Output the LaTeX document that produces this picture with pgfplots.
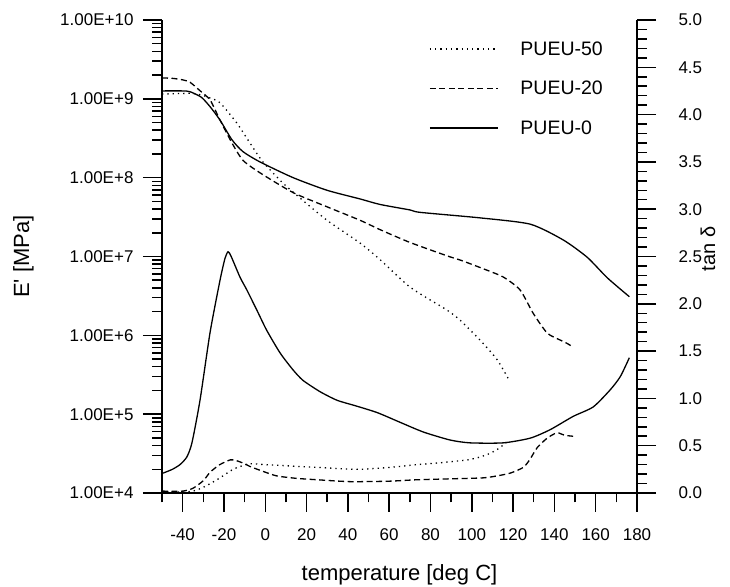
\documentclass[border=0pt]{standalone}
\usepackage{pgfplots}
\pgfplotsset{compat=1.18}
\usepackage{fontspec}
\setmainfont{Liberation Sans}
\newfontfamily\ls{Liberation Sans}
\begin{document}
\begin{tikzpicture}
\useasboundingbox (-162bp,-94bp) rectangle (568bp,493bp);
\pgfplotsset{
  common/.style={
    at={(0,0)}, anchor=south west,
    scale only axis, width=475bp, height=473bp,
    xmin=-50, xmax=180, enlargelimits=false,
    tick align=outside,
    major tick length=19bp, minor tick length=9.5bp,
    axis line style={-, line width=1.6bp},
    every tick/.style={line width=1.5bp, black},
    tick label style={font=\ls\fontsize{17bp}{20bp}\selectfont},
    every axis plot/.append style={smooth, tension=0.4},
  },
}
\begin{axis}[common,
  ymode=log, ymin=1e4, ymax=1e10,
  axis x line*=bottom, axis y line*=left,
  xtick={-40,-20,0,20,40,60,80,100,120,140,160,180},
  xticklabels={-40,-20,0,20,40,60,80,100,120,140,160,180},
  minor xtick={-50,-30,-10,10,30,50,70,90,110,130,150,170},
  ytick={1e4,1e5,1e6,1e7,1e8,1e9,1e10},
  yticklabels={1.00E+4,1.00E+5,1.00E+6,1.00E+7,1.00E+8,1.00E+9,1.00E+10},
  minor ytick={2e4,3e4,4e4,5e4,6e4,7e4,8e4,9e4,
               2e5,3e5,4e5,5e5,6e5,7e5,8e5,9e5,
               2e6,3e6,4e6,5e6,6e6,7e6,8e6,9e6,
               2e7,3e7,4e7,5e7,6e7,7e7,8e7,9e7,
               2e8,3e8,4e8,5e8,6e8,7e8,8e8,9e8,
               2e9,3e9,4e9,5e9,6e9,7e9,8e9,9e9},
  xticklabel style={yshift=-13bp},
  yticklabel style={xshift=-6bp},
  xlabel={temperature [deg C]},
  ylabel={E' [MPa]},
  xlabel style={font=\ls\fontsize{22bp}{26bp}\selectfont, at={(axis description cs:0.5,0)}, anchor=center, yshift=-82bp},
  ylabel style={font=\ls\fontsize{22bp}{26bp}\selectfont, at={(axis description cs:0,0.5)}, anchor=center, yshift=138.5bp},
  legend style={at={(axis description cs:0.562,0.959)}, anchor=north west, draw=none, fill=none,
    font=\ls\fontsize{19.5bp}{23bp}\selectfont, row sep=20.4bp, inner sep=0pt,
    /tikz/every odd column/.append style={column sep=20bp}},
  legend cell align=left,
  legend image code/.code={\draw[#1, sharp plot] (0bp,0bp) -- (68bp,0bp);},
]
% PUEU-50 E'
\addplot[black, line width=1.3bp, dash pattern=on 1.3bp off 4bp] coordinates {
(-50,1.148e9) (-45,1.16e9) (-40,1.17e9) (-36,1.175e9) (-31,1.12e9) (-26.7,1.023e9) (-21.9,8.91e8)
(-13.7,4.90e8) (-7.4,2.75e8) (-1.1,1.58e8) (8.6,8.51e7) (16.9,5.50e7) (29.9,2.88e7)
(45.9,1.48e7) (55.6,9.12e6) (70.2,4.07e6) (88,2.09e6) (94.4,1.55e6) (104,8.71e5)
(112.3,4.90e5) (118.1,2.69e5)};
\addlegendentry{PUEU-50}
% PUEU-20 E'
\addplot[black, line width=1.3bp, dash pattern=on 6bp off 3.5bp] coordinates {
(-50,1.84e9) (-45,1.82e9) (-40,1.74e9) (-36.4,1.62e9) (-31.5,1.26e9) (-26.7,9.66e8)
(-21.9,5.37e8) (-16.1,2.75e8) (-10.8,1.66e8) (-2.5,1.15e8) (13.5,6.46e7) (29.9,4.27e7)
(45.9,2.88e7) (55.6,2.19e7) (70,1.51e7) (88,1.02e7) (95,8.9e6) (105,7.08e6) (115.2,5.50e6)
(123.4,3.76e6) (129.7,1.91e6) (136.5,1.07e6) (142.8,8.71e5) (146,7.94e5) (149.1,7.08e5)};
\addlegendentry{PUEU-20}
% PUEU-0 E'
\addplot[black, line width=1.3bp] coordinates {
(-50,1.26e9) (-40,1.26e9) (-36.4,1.23e9) (-31,1.05e9) (-26.7,7.94e8) (-21.9,5.37e8)
(-16.1,3.02e8) (-10.8,2.14e8) (-2.5,1.58e8) (13.5,1.0e8) (29.9,6.92e7) (45.9,5.37e7)
(55.6,4.57e7) (70.2,3.89e7) (75,3.63e7) (104,3.09e7) (128.3,2.57e7) (144.3,1.62e7)
(155.9,9.77e6) (165.6,5.37e6) (176.3,3.09e6)};
\addlegendentry{PUEU-0}
\end{axis}
\begin{axis}[common,
  ymin=0, ymax=5,
  axis y line*=right, axis x line=none,
  ytick={0,0.5,1,1.5,2,2.5,3,3.5,4,4.5,5},
  yticklabels={0.0,0.5,1.0,1.5,2.0,2.5,3.0,3.5,4.0,4.5,5.0},
  minor y tick num=4,
  yticklabel style={xshift=19bp},
  ylabel={tan δ},
  ylabel style={font=\ls\fontsize{20bp}{24bp}\selectfont, at={(axis description cs:1,0.5)}, anchor=center, xshift=7.5bp, yshift=-71bp},
]
% PUEU-50 tan delta
\addplot[black, line width=1.3bp, dash pattern=on 1.3bp off 4bp] coordinates {
(-50,0.01) (-40,0.01) (-35,0.02) (-30,0.06) (-23.4,0.14) (-15.6,0.25) (-10.8,0.29)
(-7.4,0.31) (0,0.30) (16.9,0.28) (30,0.265) (44.5,0.25) (60,0.27) (73.5,0.30) (85,0.32)
(97.8,0.35) (104,0.38) (108.9,0.42) (113,0.47) (117.6,0.55)};
% PUEU-20 tan delta
\addplot[black, line width=1.3bp, dash pattern=on 6bp off 3.5bp] coordinates {
(-50,0.02) (-40,0.02) (-35,0.05) (-30,0.13) (-26.7,0.22) (-22,0.30) (-17,0.35) (-15,0.35)
(-10,0.31) (-7.4,0.28) (0,0.22) (5.7,0.18) (15,0.155) (25.1,0.14) (41.1,0.12) (60,0.125)
(73.5,0.14) (90,0.15) (105.5,0.16) (112,0.18) (118.6,0.21) (124.9,0.27) (128,0.35)
(131.7,0.48) (136.5,0.58) (140.4,0.63) (142,0.635) (145,0.61) (149.1,0.60)};
% PUEU-0 tan delta
\addplot[black, line width=1.3bp] coordinates {
(-49.5,0.21) (-45,0.25) (-41.3,0.30) (-38,0.38) (-35.5,0.53) (-31.6,0.98) (-26.7,1.70)
(-21.9,2.25) (-19.5,2.48) (-18,2.55) (-16.5,2.50) (-12.2,2.28) (-9,2.15) (-4,1.93)
(0.7,1.72) (7.2,1.48) (13.5,1.30) (18.3,1.19) (26.6,1.07) (34.8,0.98) (44,0.92) (54.2,0.85)
(65,0.75) (76.5,0.645) (89.5,0.56) (99.2,0.53) (115.2,0.53) (128.3,0.58) (138,0.67)
(149.1,0.81) (158.8,0.91) (167,1.09) (171.9,1.23) (176.3,1.43)};
\end{axis}
\end{tikzpicture}
\end{document}
